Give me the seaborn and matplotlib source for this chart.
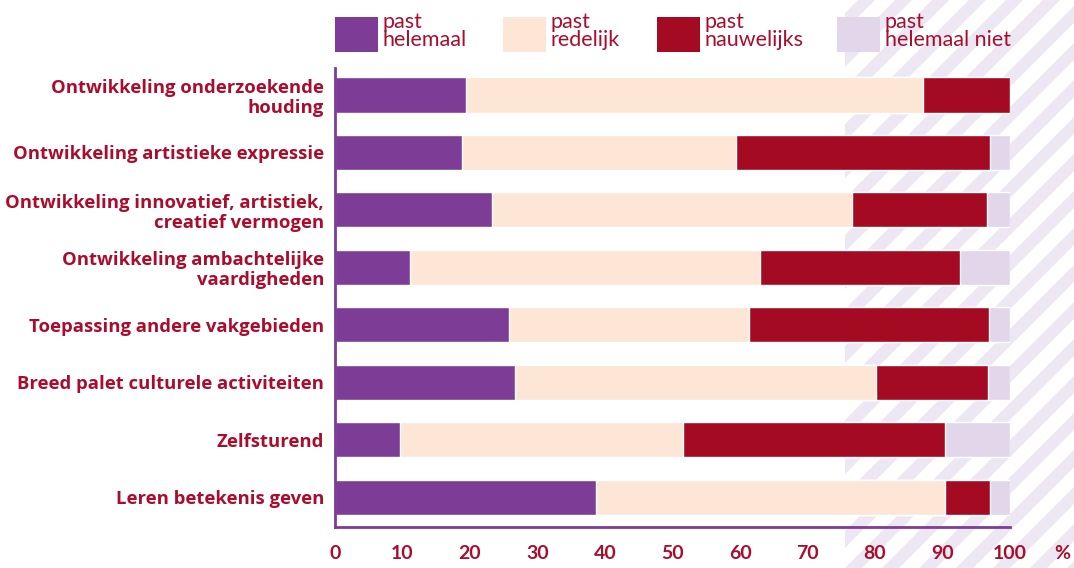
import numpy as np
import pandas as pd
import matplotlib
matplotlib.use("Agg")
import matplotlib.pyplot as plt
from matplotlib.patches import Rectangle, Polygon
import seaborn as sns

# --- data (percentages) ---
categories = [
    "Ontwikkeling onderzoekende\nhouding",
    "Ontwikkeling artistieke expressie",
    "Ontwikkeling innovatief, artistiek,\ncreatief vermogen",
    "Ontwikkeling ambachtelijke\nvaardigheden",
    "Toepassing andere vakgebieden",
    "Breed palet culturele activiteiten",
    "Zelfsturend",
    "Leren betekenis geven",
]
past_helemaal = [19.4, 18.8, 23.3, 11.1, 25.8, 26.7, 9.6, 38.7]
past_redelijk = [67.7, 40.6, 53.3, 51.9, 35.5, 53.4, 42.0, 51.7]
past_nauwelijks = [12.9, 37.6, 20.0, 29.6, 35.6, 16.6, 38.8, 6.6]
past_helemaal_niet = [0.0, 3.0, 3.4, 7.4, 3.1, 3.3, 9.6, 3.0]

series_names = ["past\nhelemaal", "past\nredelijk", "past\nnauwelijks", "past\nhelemaal niet"]
colors = ["#7D3C96", "#FDE6D6", "#A50A23", "#E1D6EA"]
xticks = [0, 10, 20, 30, 40, 50, 60, 70, 80, 90, 100]

text_red = "#A80D2E"
spine_purple = "#7D3C96"
stripe_color = "#ECE7F2"

W, H = 1074, 568

sns.set_style("white")
plt.rcParams["font.family"] = ["Lato", "DejaVu Sans"]

fig = plt.figure(figsize=(W / 100, H / 100), dpi=100)


def fx(px):
    return px / W


def fy(py):
    return 1 - py / H


# --- striped background on the right ---
bg = fig.add_axes([fx(845), 0, 1 - fx(845), 1], zorder=0)
bg.set_xlim(0, W - 845)
bg.set_ylim(0, H)
bg.axis("off")
period = 37
band = 17
for k in range(-20, 30):
    x0 = k * period
    # 45 degree band going up to the right
    poly = Polygon([(x0, 0), (x0 + band, 0), (x0 + band + H, H), (x0 + H, H)],
                   closed=True, facecolor=stripe_color, edgecolor="none")
    bg.add_patch(poly)

# --- main axes ---
ax = fig.add_axes([fx(335), fy(527), fx(1010) - fx(335), fy(68) - fy(527)], zorder=1)
ax.set_facecolor("none")

df = pd.DataFrame({
    "cat": categories,
    "s1": past_helemaal,
    "s2": past_redelijk,
    "s3": past_nauwelijks,
    "s4": past_helemaal_niet,
})
cols = ["s1", "s2", "s3", "s4"]
cum = df[cols].cumsum(axis=1)

# draw cumulative bars from the widest to the narrowest
for i in reversed(range(4)):
    sns.barplot(x=cum[cols[i]], y=df["cat"], orient="h", color=colors[i],
                saturation=1, width=0.61, errorbar=None, ax=ax, zorder=2)

ax.set_xlim(0, 100)
ax.set_ylim(7.52, -0.47)
ax.set_xlabel("")
ax.set_ylabel("")
ax.set_xticks(xticks)
ax.set_xticklabels([str(t) for t in xticks])
ax.tick_params(axis="x", length=0, pad=13, labelsize=14, colors=text_red)
ax.tick_params(axis="y", length=0, pad=8, labelsize=13.3, colors=text_red)
for lab in ax.get_xticklabels():
    lab.set_fontweight("bold")
for lab in ax.get_yticklabels():
    lab.set_fontfamily(["Open Sans", "DejaVu Sans"])
    lab.set_fontweight("bold")
    lab.set_linespacing(1.15)

# percent sign next to the last tick label
ax.annotate("%", xy=(107.7, 0), xycoords=ax.get_xaxis_transform(),
            xytext=(0, -13), textcoords="offset points", ha="center", va="top",
            fontsize=14, fontweight="bold", color=text_red, annotation_clip=False)

for side in ["top", "right"]:
    ax.spines[side].set_visible(False)
for side in ["left", "bottom"]:
    ax.spines[side].set_color(spine_purple)
    ax.spines[side].set_linewidth(2)

# --- legend ---
leg_x = [335, 503, 657, 837]
for name, c, x in zip(series_names, colors, leg_x):
    fig.patches.append(Rectangle((fx(x), fy(52)), fx(43), fy(17) - fy(52),
                                 transform=fig.transFigure, facecolor=c,
                                 edgecolor="none", zorder=3))
    fig.text(fx(x + 48), fy(12), name, ha="left", va="top", fontsize=15.5,
             fontweight="normal", color=text_red, linespacing=0.85, zorder=4)

fig.savefig("out.png", dpi=100)
